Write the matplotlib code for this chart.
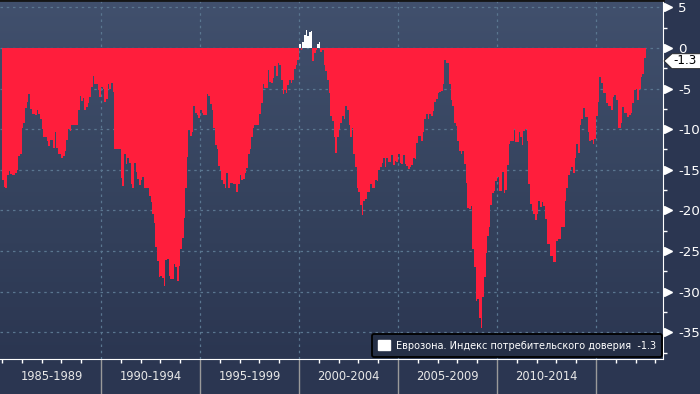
import numpy as np
import matplotlib
matplotlib.use("Agg")
import matplotlib.pyplot as plt
import matplotlib.transforms as mtransforms
from matplotlib.colors import LinearSegmentedColormap
from matplotlib.patches import Patch, Polygon

plt.rcParams['axes.unicode_minus'] = False
plt.rcParams['font.family'] = ['DejaVu Sans']

# monthly values (Jan 1985 .. Jun 2017)
start_year = 1985
y1985 = [-16.2, -17.1, -17.3, -15.6, -15.2, -15.5, -15.6, -15.6, -15.4, -15.0, -13.3, -13.0]
y1986 = [-9.8, -9.3, -7.4, -6.6, -5.7, -7.5, -8.1, -8.1, -8.2, -7.7, -8.1, -8.7]
y1987 = [-10.0, -11.0, -11.0, -11.5, -12.1, -11.3, -11.3, -12.3, -10.3, -12.3, -13.0, -13.0]
y1988 = [-13.6, -13.3, -12.7, -11.3, -10.0, -10.2, -9.5, -9.5, -9.5, -9.5, -7.6, -5.9]
y1989 = [-6.5, -6.2, -7.6, -7.3, -6.8, -6.1, -4.8, -3.4, -4.4, -4.4, -5.2, -6.0]
y1990 = [-4.8, -5.0, -6.7, -6.3, -4.4, -5.1, -4.3, -5.4, -12.5, -12.4, -12.5, -12.5]
y1991 = [-16.0, -17.0, -13.0, -14.3, -13.5, -14.2, -16.8, -17.2, -14.2, -15.3, -16.1, -16.9]
y1992 = [-16.2, -15.9, -17.2, -17.2, -17.3, -18.2, -19.0, -20.4, -21.6, -24.5, -26.2, -28.2]
y1993 = [-28.1, -28.3, -29.3, -26.1, -26.0, -28.1, -28.4, -28.4, -26.6, -27.0, -28.7, -26.8]
y1994 = [-24.8, -23.4, -21.0, -17.2, -13.4, -10.1, -10.9, -10.3, -7.1, -8.0, -8.2, -8.6]
y1995 = [-7.6, -8.0, -8.2, -8.2, -5.7, -5.9, -6.9, -7.6, -9.8, -11.9, -12.4, -14.5]
y1996 = [-15.0, -16.2, -16.8, -17.2, -15.4, -17.2, -16.6, -16.6, -16.8, -16.8, -17.8, -16.8]
y1997 = [-15.6, -16.2, -16.1, -15.4, -14.8, -13.0, -12.4, -11.0, -9.8, -9.5, -9.5, -9.5]
y1998 = [-8.1, -6.8, -4.5, -4.9, -4.9, -2.7, -4.2, -4.3, -3.7, -2.2, -3.4, -1.9]
y1999 = [-2.1, -3.9, -5.7, -5.2, -5.5, -4.6, -3.9, -4.3, -3.9, -2.6, -2.1, -1.5]
y2000 = [0.5, -0.2, 0.7, 1.6, 2.2, 1.5, 2.0, 2.1, -1.6, -0.6, -0.2, 0.5]
y2001 = [0.7, -0.5, -0.2, -2.1, -2.9, -4.0, -5.5, -8.4, -9.0, -11.0, -12.9, -11.0]
y2002 = [-10.0, -9.3, -8.4, -8.8, -7.1, -7.7, -9.5, -11.0, -9.9, -13.0, -14.7, -17.3]
y2003 = [-17.7, -19.3, -20.6, -18.8, -18.6, -17.7, -17.7, -16.8, -17.3, -17.3, -16.2, -16.4]
y2004 = [-15.0, -14.7, -14.2, -13.5, -14.6, -13.6, -14.0, -14.0, -13.2, -14.4, -13.9, -14.1]
y2005 = [-13.0, -14.2, -14.3, -13.2, -14.3, -14.5, -14.9, -14.6, -14.4, -13.6, -13.7, -11.7]
y2006 = [-10.8, -10.8, -11.4, -10.4, -8.8, -8.1, -8.7, -8.1, -8.4, -7.8, -6.7, -6.3]
y2007 = [-5.5, -5.4, -5.3, -4.4, -1.5, -1.9, -1.9, -4.4, -6.4, -7.1, -9.2, -9.6]
y2008 = [-11.4, -12.7, -13.0, -12.7, -14.3, -16.6, -19.7, -19.8, -19.5, -24.8, -27.0, -31.2]
y2009 = [-30.9, -33.2, -34.5, -30.7, -28.2, -25.2, -23.1, -22.1, -19.3, -17.9, -17.6, -16.4]
y2010 = [-15.9, -17.6, -17.6, -15.3, -17.9, -17.5, -14.4, -11.8, -11.4, -11.4, -10.0, -11.6]
y2011 = [-11.6, -10.4, -11.0, -11.9, -10.2, -10.0, -11.4, -16.7, -19.2, -19.9, -20.4, -21.2]
y2012 = [-20.5, -18.8, -19.6, -19.0, -19.5, -21.1, -24.2, -24.2, -25.6, -25.6, -26.4, -26.3]
y2013 = [-23.8, -23.5, -23.5, -22.1, -22.0, -18.8, -17.3, -15.6, -15.0, -14.7, -15.4, -13.6]
y2014 = [-11.8, -12.9, -9.5, -8.7, -7.4, -8.5, -8.5, -10.3, -11.5, -11.3, -11.8, -11.2]
y2015 = [-8.4, -6.6, -3.6, -4.3, -5.5, -5.5, -6.8, -7.1, -7.1, -7.6, -6.1, -5.8]
y2016 = [-6.4, -9.8, -9.8, -9.3, -7.3, -8.0, -8.0, -8.5, -8.2, -8.0, -6.8, -5.2]
y2017 = [-5.0, -6.4, -5.0, -3.6, -3.2, -1.3]

period_labels = ['1985-1989', '1990-1994', '1995-1999', '2000-2004', '2005-2009', '2010-2014']
legend_label = 'Еврозона. Индекс потребительского доверия  -1.3'

values = np.array(y1985 + y1986 + y1987 + y1988 + y1989 + y1990 + y1991 + y1992
                  + y1993 + y1994 + y1995 + y1996 + y1997 + y1998 + y1999 + y2000
                  + y2001 + y2002 + y2003 + y2004 + y2005 + y2006 + y2007 + y2008
                  + y2009 + y2010 + y2011 + y2012 + y2013 + y2014 + y2015 + y2016
                  + y2017)
edges = start_year + np.arange(len(values) + 1) / 12.0
last_value = values[-1]

RED = '#ff1e3c'
GRID = '#5a7690'

fig = plt.figure(figsize=(7, 3.94), dpi=100, facecolor='#2b3651')
ax = fig.add_axes([0, 35 / 394, 663 / 700, 359 / 394])

# background gradient
bg = LinearSegmentedColormap.from_list('bg', ['#41506d', '#36445f', '#2b3651'])
grad = np.linspace(0, 1, 256).reshape(-1, 1)
ax.imshow(grad, extent=[0, 1, 0, 1], transform=ax.transAxes, aspect='auto',
          cmap=bg, zorder=0)

ax.stairs(np.minimum(values, 0), edges, baseline=0, fill=True, color=RED,
          linewidth=0, zorder=2)
ax.stairs(np.maximum(values, 0), edges, baseline=0, fill=True, color='white',
          linewidth=0, zorder=2)

ax.set_xlim(1984.9, 2018.38)
ax.set_ylim(-38.3, 5.9)

# x axis
ax.set_xticks(np.arange(1990, 2016, 5))
ax.set_xticks(np.arange(1985, 2019, 1), minor=True)
ax.tick_params(axis='x', which='major', length=25, width=1, color='#9a9a9a',
               labelbottom=False)
ax.tick_params(axis='x', which='minor', length=3, width=1, color='white')
xt = mtransforms.blended_transform_factory(ax.transData, ax.transAxes)
for i, lab in enumerate(period_labels):
    ax.text(start_year + 5 * i + 2.5, -0.05, lab, transform=xt, ha='center',
            va='center', color='#e8e8e8', fontsize=8.3)

# y axis on the right
yticks = np.arange(-35, 6, 5)
ax.yaxis.tick_right()
ax.set_yticks(yticks)
ax.set_yticklabels([str(v) for v in yticks])
ax.set_yticks(np.arange(-37.5, 5, 2.5), minor=True)
ax.tick_params(axis='y', which='major', length=0, pad=11, labelsize=9.6,
               labelcolor='white')
ax.tick_params(axis='y', which='minor', length=3, width=1, color='white')
yt = mtransforms.blended_transform_factory(ax.transAxes, ax.transData)
ax.plot(np.full(len(yticks), 1.0068), yticks, transform=yt, linestyle='none',
        marker='>', markersize=6, color='white', clip_on=False, zorder=5)

ax.grid(True, which='major', color=GRID, linestyle=(0, (2, 3)), linewidth=0.9)
ax.set_axisbelow(True)

ax.spines['left'].set_visible(False)
ax.spines['right'].set_color('white')
ax.spines['bottom'].set_color('white')
ax.spines['top'].set_color('#151515')
ax.spines['top'].set_linewidth(2)

# last value tag, sitting just under the 0 label
tag_y = last_value - 0.3
tag = Polygon([(1.0015, tag_y), (1.0135, tag_y + 0.88),
               (1.06, tag_y + 0.88), (1.06, tag_y - 0.95),
               (1.0135, tag_y - 0.95)], closed=True, transform=yt,
              facecolor='white', edgecolor='#222222', linewidth=0.6,
              clip_on=False, zorder=6)
ax.add_patch(tag)
ax.text(1.0335, tag_y, f'{last_value:.1f}', transform=yt, ha='center',
        va='center', color='black', fontsize=8.6, zorder=7, clip_on=False)

leg = ax.legend(handles=[Patch(facecolor='white', edgecolor='white')],
                labels=[legend_label], loc='lower right',
                bbox_to_anchor=(0.9985, 0.006), borderaxespad=0, fontsize=7.0,
                facecolor='#252f46', edgecolor='black', labelcolor='white',
                handlelength=1.2, handleheight=1.2, handletextpad=0.6,
                borderpad=0.65, framealpha=1, fancybox=True)
leg.get_frame().set_linewidth(1.3)
leg.set_zorder(8)

fig.savefig('out.png', dpi=100, facecolor=fig.get_facecolor())
